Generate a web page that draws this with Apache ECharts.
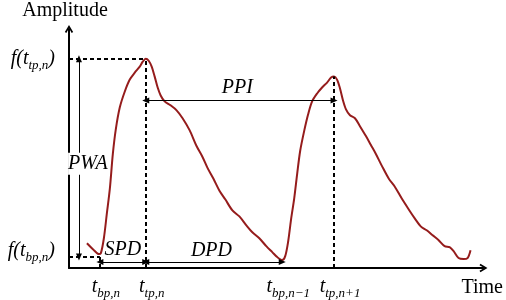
<!DOCTYPE html>
<html><head><meta charset="utf-8">
<script src="https://cdn.jsdelivr.net/npm/echarts@6/dist/echarts.min.js"></script>
<style>html,body{margin:0;padding:0;background:#fff}#c{width:506px;height:300px}</style>
</head><body><div id="c"></div>
<script>
// ---- data (time / amplitude in arbitrary units) ----
const curveTime = [18,24,30,32,35,38,41,44,47,51,56,61,66,71,74,77,80,83,86,89,92,96,102,108,114,121,128,134,139,145,151,157,164,171,178,184,191,198,204,209,214,217,220,223,226,229,232,236,240,244,249,254,259,263,266,269,272,275,278,282,287,292,298,303,308,314,321,327,334,341,347,353,359,365,371,377,382,386,391,396,400,403];
const curveAmp  = [25,19,14,15,30,55,80,115,140,162,178,190,197,203,208,211,209,203,193,182,174,168,164,159,151,139,123,112,101,90,78,69,58,52,43,36,30,22,16,11,8,12,27,50,70,95,118,138,155,168,176,182,187,192,193,190,181,169,160,154,151,143,133,124,115,103,90,82,70,59,50,42,38,33,28,22,21,17,10,9,10,18];

// key instants and levels
const tickTimes  = [31, 77, 214, 266];
const tickMain   = ['t', 't', 't', 't'];
const tickSubs   = ['bp,n', 'tp,n', 'bp,n\u22121', 'tp,n+1'];
const levelAmps  = [11, 211];
const levelSubs  = ['bp,n', 'tp,n'];
const peak2Amp   = 193;
const pwaTime    = 10;
const ppiAmp     = 169;
const durAmp     = 6;

// annotation texts and anchor points
const noteNames = ['PPI', 'SPD', 'DPD', 'PWA'];
const noteTime  = [169, 54, 143, 19];
const noteAmp   = [182, 18, 17, 105];

const xMax = 416, yMax = 241;

const F = 'Liberation Serif';
const rich = {
  m: {fontFamily: F, fontSize: 20, fontStyle: 'italic', color: '#000', verticalAlign: 'top', lineHeight: 20},
  s: {fontFamily: F, fontSize: 13, fontStyle: 'italic', color: '#000', verticalAlign: 'top', lineHeight: 13, padding: [10, 0, 0, 0]},
  g: {lineHeight: 12, fontSize: 1}
};
const chevron = 'path://M0,8.5 L5,0 L10,8.5 L8.2,9.6 L5,3.9 L1.8,9.6 Z';

const dashed = {type: [4, 3], width: 2, color: '#000'};
function seg(a, b, style, sym) {
  return [{coord: a, symbol: sym, lineStyle: style}, {coord: b, symbol: sym, lineStyle: style}];
}
const thin = {type: 'solid', width: 1, color: '#000'};
const markData = [
  seg([0, levelAmps[1]], [tickTimes[1], levelAmps[1]], dashed, 'none'),
  seg([0, levelAmps[0]], [tickTimes[0], levelAmps[0]], dashed, 'none'),
  seg([tickTimes[0], 0], [tickTimes[0], levelAmps[0]], dashed, 'none'),
  seg([tickTimes[1], 0], [tickTimes[1], levelAmps[1]], dashed, 'none'),
  seg([tickTimes[3], 0], [tickTimes[3], peak2Amp], dashed, 'none'),
  seg([pwaTime, levelAmps[1]], [pwaTime, levelAmps[0]], thin, 'triangle'),
  seg([tickTimes[0], durAmp], [tickTimes[1], durAmp], thin, 'triangle'),
  seg([tickTimes[1], durAmp], [tickTimes[2], durAmp], thin, 'triangle'),
  seg([tickTimes[1], ppiAmp], [tickTimes[3], ppiAmp], thin, 'triangle')
];

const chart = echarts.init(document.getElementById('c'), null, {renderer: 'canvas'});
chart.setOption({
  animation: false,
  backgroundColor: '#fff',
  textStyle: {fontFamily: F},
  grid: {left: 69, right: 21, top: 29, bottom: 30, containLabel: false},
  xAxis: {
    type: 'value', min: 0, max: xMax,
    name: 'Time', nameLocation: 'end', nameGap: -22,
    nameTextStyle: {fontFamily: F, fontSize: 20, color: '#000', align: 'left', verticalAlign: 'top', padding: [10, 0, 0, 0]},
    axisLine: {show: true, onZero: false, symbol: ['none', chevron], symbolSize: [10, 8], lineStyle: {color: '#000', width: 2}},
    axisTick: {show: false},
    splitLine: {show: false},
    axisLabel: {
      customValues: tickTimes, margin: 9, padding: [0, 0, 0, 12],
      formatter: v => { const i = tickTimes.indexOf(v); return '{m|' + tickMain[i] + '}{s|' + tickSubs[i] + '}'; },
      rich: rich
    }
  },
  yAxis: {
    type: 'value', min: 0, max: yMax,
    name: 'Amplitude', nameLocation: 'end', nameGap: 8,
    nameTextStyle: {fontFamily: F, fontSize: 20, color: '#000', padding: [0, 8, 0, 0]},
    axisLine: {show: true, onZero: false, symbol: ['none', chevron], symbolSize: [10, 8], lineStyle: {color: '#000', width: 2}},
    axisTick: {show: false},
    splitLine: {show: false},
    axisLabel: {
      customValues: levelAmps, margin: 14,
      formatter: v => { const i = levelAmps.indexOf(v); const base = '{m|f(t}{s|' + levelSubs[i] + '}{m|)}'; return i === 0 ? base + '\n{g|}' : base; },
      rich: rich
    }
  },
  series: [
    {
      type: 'line', data: curveTime.map((t, i) => [t, curveAmp[i]]),
      showSymbol: false, smooth: 0.3, z: 3,
      lineStyle: {color: '#951c1c', width: 2},
      markLine: {silent: true, symbolSize: [6, 7], label: {show: false}, data: markData, animation: false}
    },
    {
      type: 'scatter', z: 10, symbolSize: 0, silent: true,
      itemStyle: {color: '#000', opacity: 1},
      data: noteNames.map((n, i) => ({name: n, value: [noteTime[i], noteAmp[i]],
        label: n === 'PWA' ? {backgroundColor: '#fff', padding: [1, 0]} : undefined})),
      label: {show: true, position: 'inside', formatter: '{b}', fontFamily: F, fontSize: 20, fontStyle: 'italic', color: '#000', opacity: 1}
    }
  ]
});
</script></body></html>
